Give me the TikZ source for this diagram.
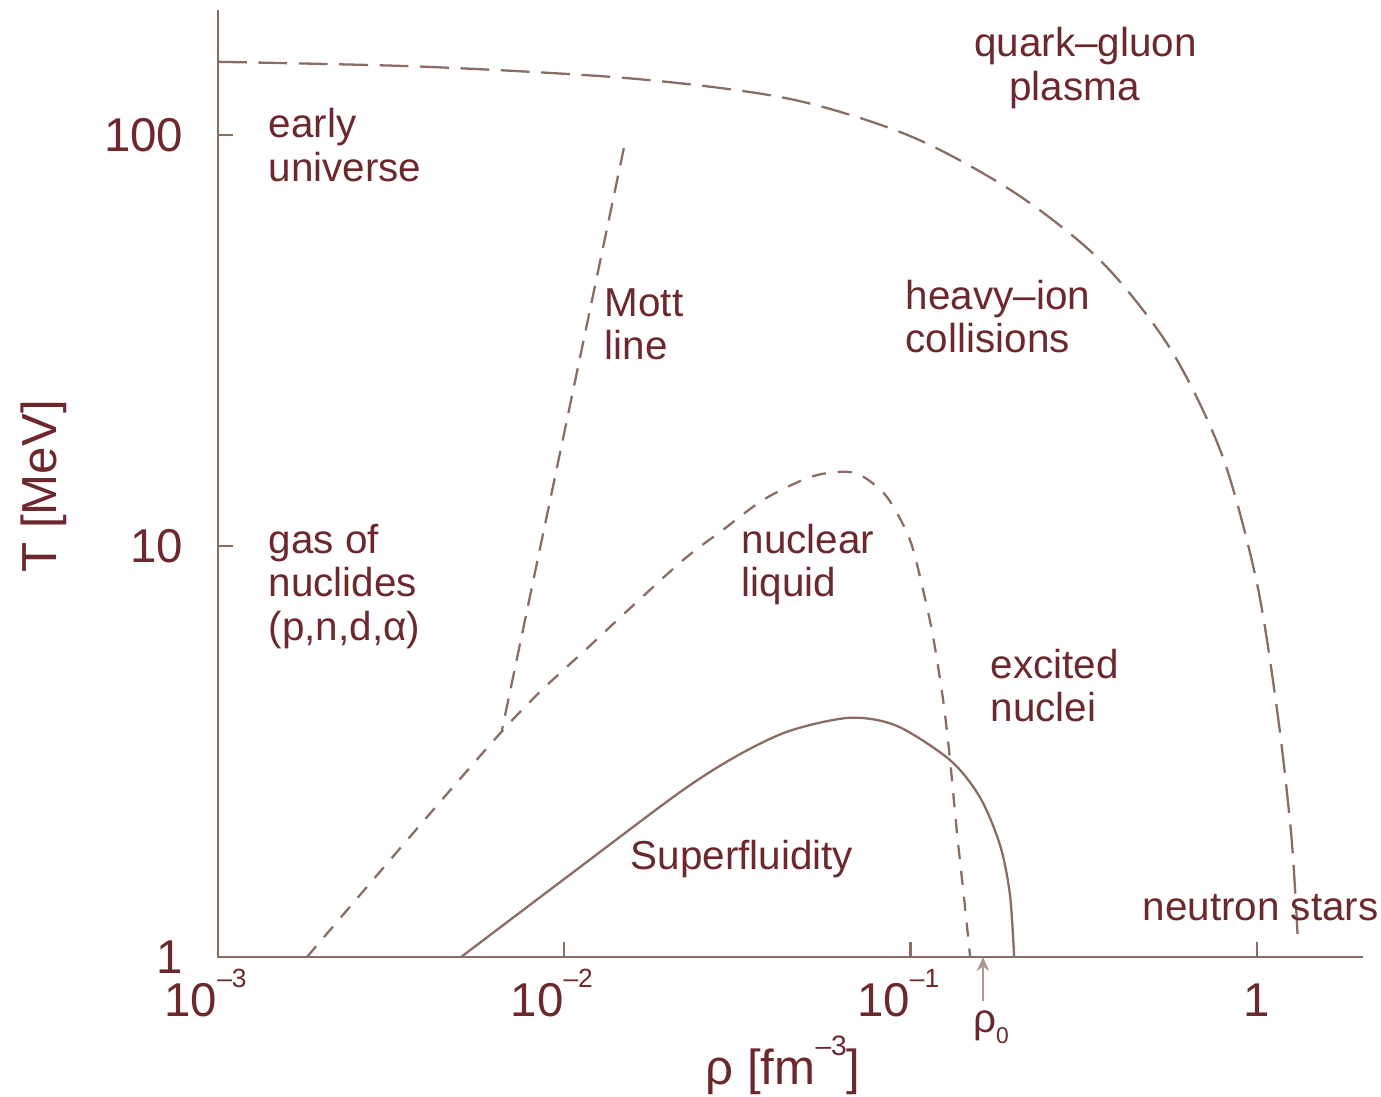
\documentclass[tikz,border=0pt]{standalone}
\usepackage{fontspec}
\setmainfont{Liberation Sans}
\usetikzlibrary{arrows.meta, positioning}
\definecolor{diagBrown}{RGB}{138, 108, 98}
\definecolor{labelBrown}{RGB}{108, 40, 44}
\newcommand{\tenpow}[1]{10\raisebox{0.6em}{\fontsize{7.5}{8}\selectfont\textendash#1}}
\tikzset{
  phaseLine/.style={
    draw=diagBrown,
    line width=0.65pt
  },
  qgpBoundary/.style={
    phaseLine,
    dash pattern=on 8.2pt off 3.3pt
  },
  mottBoundary/.style={
    phaseLine,
    dash pattern=on 5pt off 3pt
  },
  liquidBoundary/.style={
    phaseLine,
    dash pattern=on 4pt off 3.4pt
  },
  rhoArrow/.style={
    draw=diagBrown!70,
    line width=0.45pt,
    -{Stealth[length=4pt, width=3.5pt]}
  },
  regionLabel/.style={
    text=labelBrown,
    font=\fontsize{11.5}{12.3}\selectfont,
    align=left,
    inner sep=0pt,
    anchor=base west
  },
  tickLabel/.style={
    text=labelBrown,
    font=\fontsize{13.5}{15}\selectfont,
    inner sep=0pt
  },
  axisLabel/.style={
    text=labelBrown,
    font=\fontsize{14}{16}\selectfont,
    inner sep=0pt,
    anchor=base west
  }
}

\begin{document}
\begin{tikzpicture}[x=3.463cm, y=4.11cm]
  \useasboundingbox (-0.6295,-0.3406) rectangle (3.3584,2.3285);
  % Axes and ticks
  \draw[phaseLine] (0,2.304) -- (0,0) -- (3.306,0);
  \foreach \k in {1,2}
    \draw[phaseLine] (0,\k) -- (0.043,\k);
  \foreach \k in {1,2,3}
    \draw[phaseLine] (\k,0) -- (\k,0.0365);

  % Tick labels
  \node[tickLabel, anchor=east] (tempOne) at (-0.098,0) {1};
  \node[tickLabel, anchor=east] (tempTen) at (-0.098,1) {10};
  \node[tickLabel, anchor=east] (tempHundred) at (-0.098,2) {100};
  \node[tickLabel, anchor=base] (densMilli) at (-0.036,-0.1436) {\tenpow{3}};
  \node[tickLabel, anchor=base] (densCenti) at (0.964,-0.1436) {\tenpow{2}};
  \node[tickLabel, anchor=base] (densDeci) at (1.964,-0.1436) {\tenpow{1}};
  \node[tickLabel, anchor=base] (densOne) at (3.0,-0.1436) {1};

  % Axis titles
  \node[axisLabel, rotate=90] (tempAxis) at (-0.465,0.934) {T [MeV]};
  \node[axisLabel] (densAxis) at (1.406,-0.311) {ρ [fm\raisebox{0.6em}{\fontsize{8}{9}\selectfont\textendash3}]};

  % Phase boundaries
  \draw[qgpBoundary] plot[smooth] coordinates {(0,2.178) (0.6,2.166) (1.2,2.137) (1.65,2.088) (2.0,1.997) (2.3,1.86) (2.55,1.693) (2.75,1.48) (2.9,1.22) (3.0,0.91) (3.06,0.59) (3.1,0.29) (3.119,0.029)};
  \draw[mottBoundary] (1.172,1.968) -- (0.820,0.552);
  \draw[liquidBoundary] plot[smooth] coordinates {(0.257,0) (0.823,0.552) (1.08,0.762) (1.334,0.959) (1.458,1.039) (1.574,1.112) (1.701,1.165) (1.787,1.180) (1.854,1.173) (1.932,1.119) (1.998,1.015) (2.036,0.893) (2.065,0.779) (2.094,0.625) (2.114,0.479) (2.134,0.302) (2.155,0.139) (2.172,0)};
  \draw[phaseLine] plot[smooth] coordinates {(0.702,0) (1.016,0.2) (1.334,0.401) (1.50,0.49) (1.65,0.55) (1.825,0.582) (1.961,0.562) (2.114,0.479) (2.2,0.389) (2.258,0.273) (2.287,0.151) (2.299,0)};

  % Regions (base = last line)
  \node[regionLabel] (earlyUniverse) at (0.1444,1.888) {early\\universe};
  \node[regionLabel] (qgPlasma) at (2.182,2.085) {quark--gluon\\\hspace*{0.35cm}plasma};
  \node[regionLabel] (heavyIon) at (1.984,1.470) {heavy--ion\\collisions};
  \node[regionLabel] (mottLine) at (1.115,1.453) {Mott\\line};
  \node[regionLabel] (gasNuclides) at (0.1444,0.771) {gas of\\nuclides\\(p,n,d,α)};
  \node[regionLabel] (nuclearLiquid) at (1.510,0.876) {nuclear\\liquid};
  \node[regionLabel] (excitedNuclei) at (2.229,0.572) {excited\\nuclei};
  \node[regionLabel] (superfluidity) at (1.190,0.212) {Superfluidity};
  \node[regionLabel] (neutronStars) at (2.668,0.090) {neutron stars};

  % Saturation density
  \node[regionLabel, anchor=base] (rhoZero) at (2.232,-0.1825) {ρ\raisebox{-0.11cm}{\fontsize{6.5}{7}\selectfont 0}};
  \coordinate (rhoZeroTick) at (2.209,0);
  \draw[rhoArrow, shorten <=0.09cm] (rhoZeroTick |- rhoZero.north) -- (rhoZeroTick);
\end{tikzpicture}
\end{document}
